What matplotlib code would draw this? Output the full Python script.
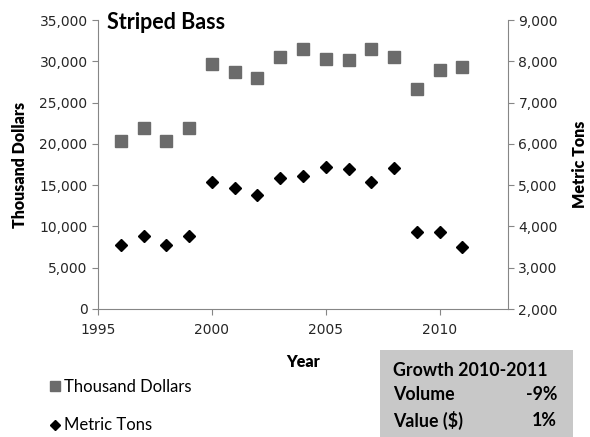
import matplotlib.pyplot as plt
from matplotlib.lines import Line2D
from matplotlib.patches import Rectangle
from matplotlib.ticker import FuncFormatter

# dados
anos = [1996, 1997, 1998, 1999, 2000, 2001, 2002, 2003, 2004, 2005, 2006, 2007, 2008, 2009, 2010, 2011]
mil_dolares = [20400, 21900, 20400, 21900, 29700, 28700, 28000, 30500, 31500, 30300, 30200, 31500, 30500, 26700, 29000, 29300]
toneladas = [3550, 3780, 3550, 3780, 5080, 4940, 4750, 5170, 5210, 5440, 5400, 5080, 5410, 3860, 3860, 3510]

crescimento = [('Volume', '-9%'), ('Value ($)', '1%')]

fonte = ['Lato', 'DejaVu Sans']
cinza_eixo = '#868686'
cor_quadrado = '#6b6b6b'

fig = plt.figure(figsize=(5.9, 4.37), dpi=100)
ax = fig.add_axes([98/590, 1 - 309/437, 410/590, 289/437])
ax2 = ax.twinx()

ax.plot(anos, mil_dolares, 's', color=cor_quadrado, markersize=8, linestyle='none')
ax2.plot(anos, toneladas, 'D', color='black', markersize=6.5, linestyle='none')

ax.set_xlim(1995, 2013)
ax.set_ylim(0, 35000)
ax2.set_ylim(2000, 9000)
ax.set_xticks([1995, 2000, 2005, 2010])
ax.set_yticks(range(0, 35001, 5000))
ax2.set_yticks(range(2000, 9001, 1000))

fmt = FuncFormatter(lambda v, p: '{:,.0f}'.format(v))
ax.yaxis.set_major_formatter(fmt)
ax2.yaxis.set_major_formatter(fmt)

for a in (ax, ax2):
    a.spines['top'].set_visible(False)
    for s in a.spines.values():
        s.set_color(cinza_eixo)
    a.tick_params(colors=cinza_eixo, labelcolor='#262626', labelsize=10, length=4)
ax.spines['right'].set_visible(False)
ax2.spines['left'].set_visible(False)
ax2.spines['bottom'].set_visible(False)
ax.tick_params(axis='x', pad=6)

ax.set_ylabel('Thousand Dollars', family=fonte, fontweight='heavy', fontsize=11.5, labelpad=8)
ax2.set_ylabel('Metric Tons', family=fonte, fontweight='heavy', fontsize=11.5, labelpad=10)
ax.set_xlabel('Year', family=fonte, fontweight='heavy', fontsize=11.5, labelpad=12)

ax.text(0.022, 0.99, 'Striped Bass', transform=ax.transAxes, family=fonte,
        fontweight='bold', fontsize=15.5, va='center', ha='left')

# legenda embaixo a esquerda
handles = [Line2D([], [], marker='s', color=cor_quadrado, linestyle='none', markersize=7),
           Line2D([], [], marker='D', color='black', linestyle='none', markersize=5.5)]
fig.legend(handles, ['Thousand Dollars', 'Metric Tons'], loc='upper left',
           bbox_to_anchor=(35/590, 1 - 364/437), frameon=False, handlelength=0.6,
           handletextpad=0.25, labelspacing=1.35, prop={'family': fonte, 'size': 12})

# caixa de crescimento
fig.patches.append(Rectangle((380/590, 0), 193/590, 87/437, transform=fig.transFigure,
                             facecolor='#c8c8c8', edgecolor='none', zorder=0))
fig.text(393/590, 1 - 371/437, 'Growth 2010-2011', family=fonte, fontweight='bold',
         fontsize=12.8, va='center', ha='left')
linhas_y = [395, 420]
for (rotulo, valor), yy in zip(crescimento, linhas_y):
    fig.text(393/590, 1 - yy/437, rotulo, family=fonte, fontweight='bold',
             fontsize=12.8, va='center', ha='left')
    fig.text(557/590, 1 - yy/437, valor, family=fonte, fontweight='bold',
             fontsize=12.8, va='center', ha='right')

fig.savefig('out.png', dpi=100)
